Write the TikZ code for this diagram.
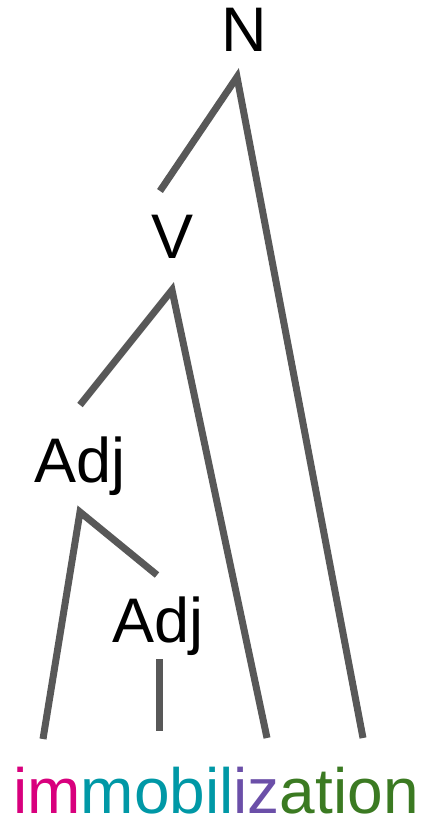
\documentclass[tikz,border=0pt]{standalone}
\usepackage{fontspec}
\setmainfont{Liberation Sans}
\definecolor{edgegray}{HTML}{585858}
\definecolor{cmag}{HTML}{D8007D}
\definecolor{cteal}{HTML}{0098A6}
\definecolor{cpurp}{HTML}{6B4FA8}
\definecolor{cgreen}{HTML}{3B7A22}
\begin{document}
\begin{tikzpicture}[x=1pt,y=-1pt,
  lbl/.style={anchor=base,inner sep=0pt,font=\fontsize{63}{63}\selectfont},
  edge/.style={draw=edgegray,line width=7pt}]
\useasboundingbox (0,0) rectangle (423,818);
\node[lbl] (N) at (244,52) {N};
\node[lbl] (V) at (172.5,258) {V};
\node[lbl] (A1) at (80,482) {Adj};
\node[lbl] (A2) at (158,642) {Adj};
\node[lbl,anchor=base west,text depth=0pt,font=\fontsize{64}{64}\selectfont] (W) at (13,813) {\textcolor{cmag}{im}\textcolor{cteal}{mobil}\textcolor{cpurp}{iz}\textcolor{cgreen}{ation}};
% connector ends
\coordinate (Nb) at (237,77);
\coordinate (Vt) at (160,191);
\coordinate (Vb) at (172,290);
\coordinate (A1t) at (80,405);
\coordinate (A1b) at (80,512);
\coordinate (A2t) at (157,575);
\coordinate (A2b) at (159,659);
\coordinate (wim) at (43,739);
\coordinate (wmob) at (159,731);
\coordinate (wiz) at (267,738);
\coordinate (wat) at (363,738);
\draw[edge] (Vt) -- (Nb) -- (wat);
\draw[edge] (A1t) -- (Vb) -- (wiz);
\draw[edge] (wim) -- (A1b) -- (A2t);
\draw[edge] (A2b) -- (wmob);
\end{tikzpicture}
\end{document}
